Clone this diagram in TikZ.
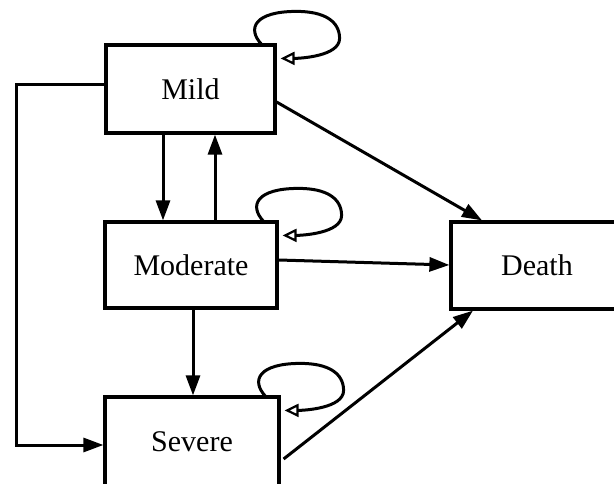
\documentclass[tikz,border=0pt]{standalone}
\usepackage{fontspec}
\setmainfont{Liberation Serif}
\usetikzlibrary{arrows.meta}
\tikzset{
  statebox/.style={draw, line width=3.2pt, fill=white, font=\fontsize{30}{36}\selectfont, inner sep=0pt},
  conn/.style={line width=3pt, -{Triangle[length=20pt,width=14pt]}},
  selfloop/.style={line width=3pt, -{Triangle[open,length=14pt,width=13pt,line width=2.2pt]}},
}
\newcommand{\loopat}[1]{%
  \draw[selfloop] ([shift={(-15,1)}]#1.north east)
    .. controls +(-15,-16) and +(-42,0) .. ([shift={(20,-32)}]#1.north east)
    .. controls +(28,0) and +(0,-17) .. ([shift={(63,-5)}]#1.north east)
    .. controls +(0,18) and +(19,0) .. ([shift={(4,15)}]#1.north east);}
\begin{document}
\begin{tikzpicture}[x=1pt,y=-1pt]
\useasboundingbox (0,0) rectangle (614,484);
\clip (0,0) rectangle (614,484);
\node[statebox, minimum width=169pt, minimum height=88pt] (mild) at (190.5,89) {Mild};
\node[statebox, minimum width=172pt, minimum height=86pt] (moderate) at (191,265) {Moderate};
\node[statebox, minimum width=174pt, minimum height=90pt] (severe) at (192,442) {Severe};
\node[statebox, minimum width=172pt, minimum height=87pt] (death) at (537,265.5) {Death};
\coordinate (xa) at (163,0);
\coordinate (xb) at (215,0);
\coordinate (xc) at (193,0);
\coordinate (xl) at (16,0);
\coordinate (ya) at (0,85);
\coordinate (yb) at (0,445);
\coordinate (yc) at (0,102);
\coordinate (xd) at (482,0);
\coordinate (yd) at (0,260);
\coordinate (ye) at (0,265);
\coordinate (ys) at (0,459);
\coordinate (xe) at (473,0);
\draw[conn] (mild.south -| xa) -- (moderate.north -| xa);
\draw[conn] (moderate.north -| xb) -- (mild.south -| xb);
\draw[conn] (moderate.south -| xc) -- (severe.north -| xc);
\draw[conn] (mild.west |- ya) -- (xl |- ya) -- (xl |- yb) -- (severe.west |- yb);
\draw[conn] (mild.east |- yc) -- (death.north -| xd);
\draw[conn] (moderate.east |- yd) -- (death.west |- ye);
\draw[conn] ([xshift=3pt]severe.east |- ys) -- (death.south -| xe);
\loopat{mild}
\loopat{moderate}
\loopat{severe}
\end{tikzpicture}
\end{document}
